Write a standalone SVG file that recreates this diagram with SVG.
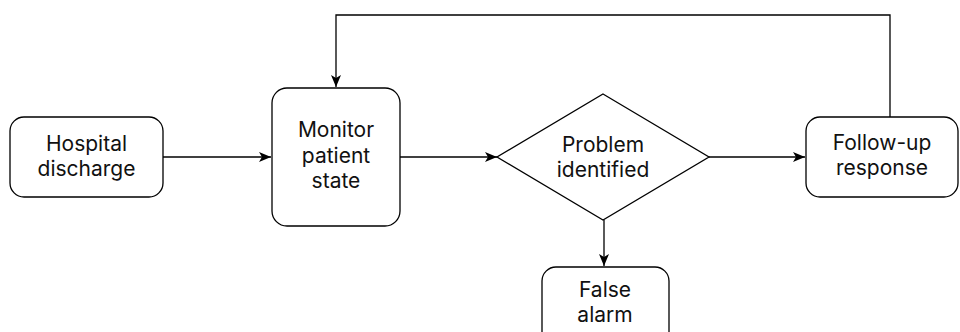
<svg xmlns="http://www.w3.org/2000/svg" width="960" height="332" viewBox="0 0 960 332">
<style>
.box{fill:#fff;stroke:#000;stroke-width:1.3}
.lbl{font-family:Inter,"Liberation Sans",sans-serif;font-size:21px;fill:#111;text-anchor:middle}
.edge{fill:none;stroke:#000;stroke-width:1.3}
</style>
<defs>
<marker id="ah" viewBox="0 0 12 10" refX="12" refY="5" markerWidth="12" markerHeight="10" markerUnits="userSpaceOnUse" orient="auto">
<path d="M0,0 L12,5 L0,10 L3,5 Z" fill="#000"/>
</marker>
</defs>
<g id="connectors">
<line class="edge" x1="163" y1="157" x2="271" y2="157" marker-end="url(#ah)"/>
<line class="edge" x1="400" y1="157" x2="497" y2="157" marker-end="url(#ah)"/>
<line class="edge" x1="709" y1="157" x2="805" y2="157" marker-end="url(#ah)"/>
<line class="edge" x1="604" y1="220" x2="604" y2="266" marker-end="url(#ah)"/>
<polyline class="edge" points="890,117 890,15 336,15 336,87" marker-end="url(#ah)"/>
</g>
<g id="hospital">
<rect class="box" x="10" y="117" width="153" height="80" rx="14"/>
<text class="lbl" x="86.5" y="150.5">Hospital</text>
<text class="lbl" x="86.5" y="176">discharge</text>
</g>
<g id="monitor">
<rect class="box" x="272" y="88" width="128" height="138" rx="15"/>
<text class="lbl" x="336" y="137">Monitor</text>
<text class="lbl" x="336" y="162.5">patient</text>
<text class="lbl" x="336" y="188">state</text>
</g>
<g id="problem">
<polygon class="box" points="603,94 709,157 603,220 497,157"/>
<text class="lbl" x="603" y="151.5">Problem</text>
<text class="lbl" x="603" y="177">identified</text>
</g>
<g id="followup">
<rect class="box" x="806" y="117" width="152" height="80" rx="14"/>
<text class="lbl" x="882" y="149.5">Follow-up</text>
<text class="lbl" x="882" y="175">response</text>
</g>
<g id="falsealarm">
<rect class="box" x="542" y="267" width="127" height="80" rx="14"/>
<text class="lbl" x="605" y="296.5">False</text>
<text class="lbl" x="605" y="322">alarm</text>
</g>
</svg>
